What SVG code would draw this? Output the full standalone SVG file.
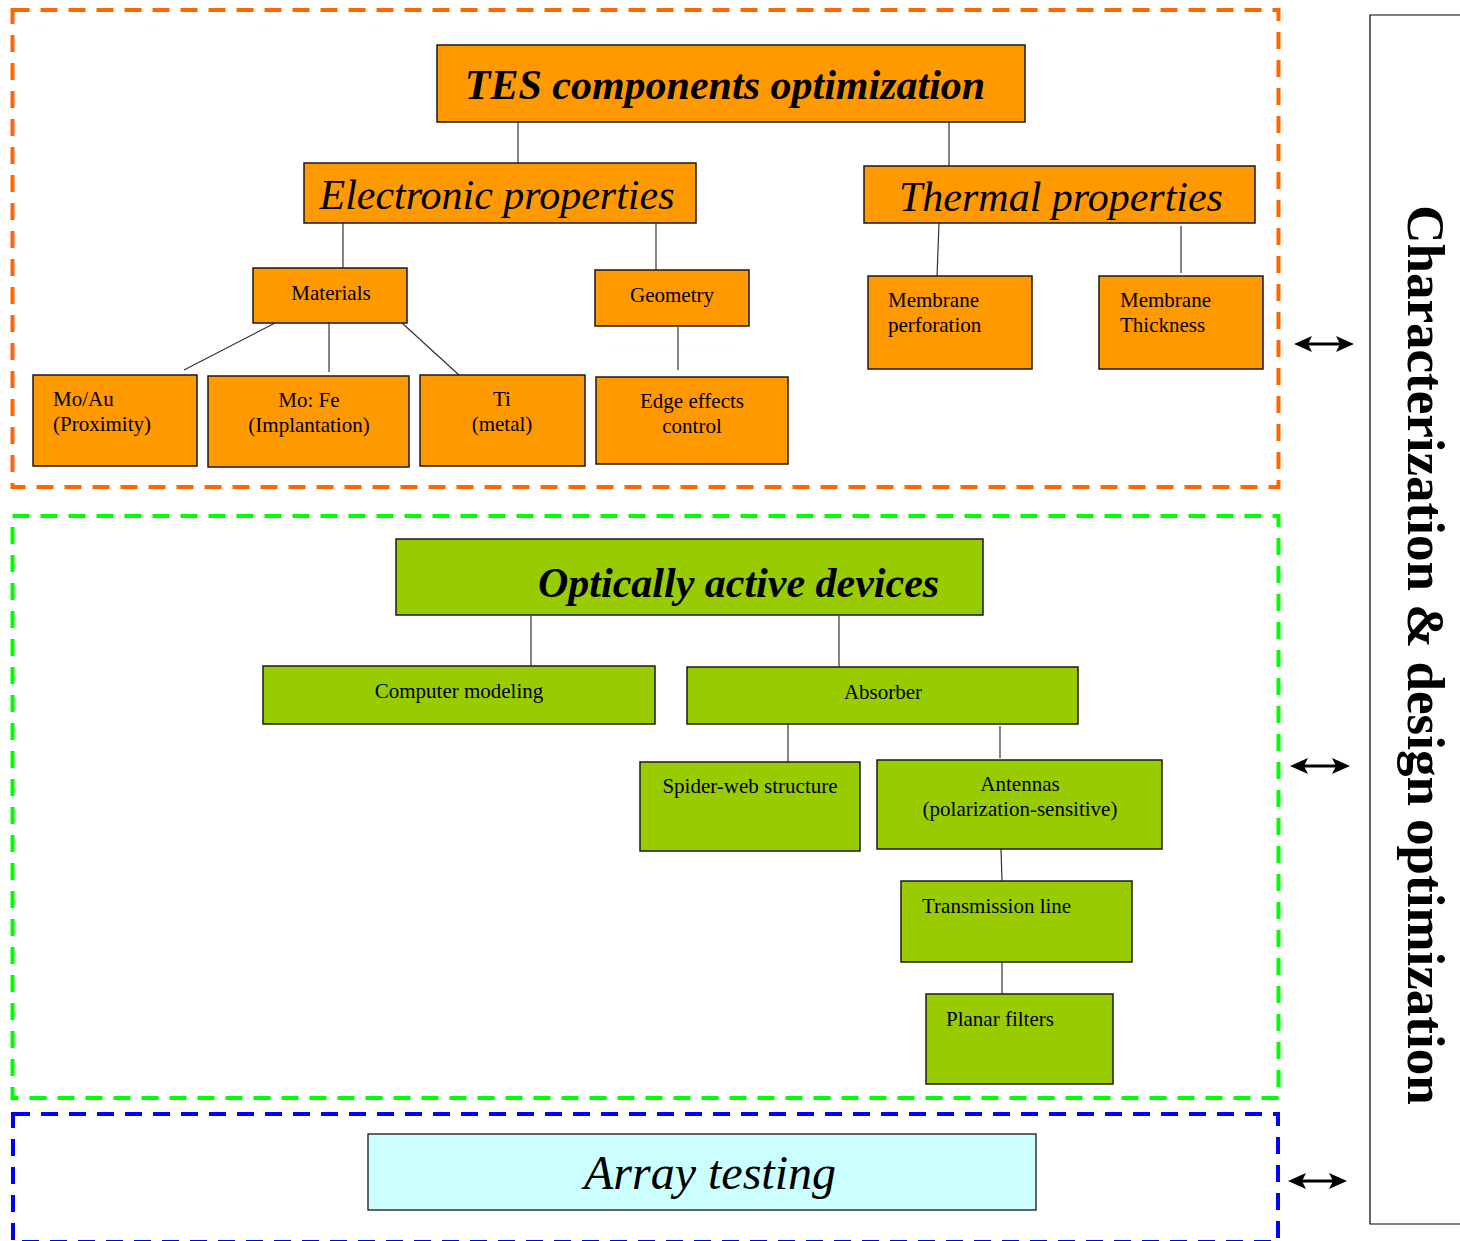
<svg xmlns="http://www.w3.org/2000/svg" width="1460" height="1241" viewBox="0 0 1460 1241">
<style>
.frame{fill:none;stroke-width:4;stroke-dasharray:17 11}
.o{fill:#ff9900;stroke:#1a1a1a;stroke-width:1.5}
.g{fill:#99cc00;stroke:#1a1a1a;stroke-width:1.5}
.c{fill:#ccffff;stroke:#333;stroke-width:1.5}
text{font-family:"Liberation Serif","Times New Roman",serif;fill:#000}
.s{font-size:21px}
.h{font-size:42px;font-style:italic}
.hb{font-size:42px;font-style:italic;font-weight:bold}
.m{text-anchor:middle}
.conn line{stroke:#333;stroke-width:1.2}
.arr line{stroke:#000;stroke-width:3}
.arr path{fill:#000}
</style>
<rect width="1460" height="1241" fill="#fff"/>
<g id="frames">
<rect class="frame" x="12.5" y="10" width="1266" height="477" stroke="#ff6600"/>
<rect class="frame" x="12.5" y="516" width="1266" height="582" stroke="#00ff00"/>
<rect class="frame" x="13" y="1114" width="1265" height="128" stroke="#0000ff"/>
</g>
<g id="connectors" class="conn">
<line x1="518" y1="122" x2="518" y2="163"/>
<line x1="949" y1="122" x2="949" y2="166"/>
<line x1="343" y1="223" x2="343" y2="268"/>
<line x1="656" y1="223" x2="656" y2="270"/>
<line x1="275" y1="323" x2="184" y2="370"/>
<line x1="329" y1="323" x2="329" y2="372"/>
<line x1="402" y1="323" x2="459" y2="375"/>
<line x1="678" y1="327" x2="678" y2="370"/>
<line x1="939" y1="223" x2="937" y2="277"/>
<line x1="1181" y1="226" x2="1181" y2="273"/>
<line x1="531" y1="616" x2="531" y2="666"/>
<line x1="839" y1="616" x2="839" y2="667"/>
<line x1="788" y1="724" x2="788" y2="762"/>
<line x1="1000" y1="726" x2="1000" y2="758"/>
<line x1="1001" y1="849" x2="1002" y2="881"/>
<line x1="1002" y1="962" x2="1002" y2="994"/>
</g>
<g id="n-tes"><rect class="o" x="437" y="45" width="588" height="77"/><text class="hb m" x="725" y="99">TES components optimization</text></g>
<g id="n-electronic"><rect class="o" x="304" y="163" width="392" height="60"/><text class="h m" x="497" y="209">Electronic properties</text></g>
<g id="n-thermal"><rect class="o" x="864" y="166" width="391" height="57"/><text class="h m" x="1061" y="211">Thermal properties</text></g>
<g id="n-materials"><rect class="o" x="253" y="268" width="154" height="55"/><text class="s m" x="331" y="300">Materials</text></g>
<g id="n-geometry"><rect class="o" x="595" y="270" width="154" height="56"/><text class="s m" x="672" y="302">Geometry</text></g>
<g id="n-moau"><rect class="o" x="33" y="375" width="164" height="91"/><text class="s" x="53" y="406">Mo/Au</text><text class="s" x="53" y="431">(Proximity)</text></g>
<g id="n-mofe"><rect class="o" x="208" y="376" width="201" height="91"/><text class="s m" x="309" y="407">Mo: Fe</text><text class="s m" x="309" y="432">(Implantation)</text></g>
<g id="n-ti"><rect class="o" x="420" y="375" width="165" height="91"/><text class="s m" x="502" y="406">Ti</text><text class="s m" x="502" y="431">(metal)</text></g>
<g id="n-edge"><rect class="o" x="596" y="377" width="192" height="87"/><text class="s m" x="692" y="408">Edge effects</text><text class="s m" x="692" y="433">control</text></g>
<g id="n-perforation"><rect class="o" x="868" y="276" width="164" height="93"/><text class="s" x="888" y="307">Membrane</text><text class="s" x="888" y="332">perforation</text></g>
<g id="n-thickness"><rect class="o" x="1099" y="276" width="164" height="93"/><text class="s" x="1120" y="307">Membrane</text><text class="s" x="1120" y="332">Thickness</text></g>
<g id="n-optical"><rect class="g" x="396" y="539" width="587" height="76"/><text class="hb" x="538" y="597">Optically active devices</text></g>
<g id="n-computer"><rect class="g" x="263" y="666" width="392" height="58"/><text class="s m" x="459" y="698">Computer modeling</text></g>
<g id="n-absorber"><rect class="g" x="687" y="667" width="391" height="57"/><text class="s m" x="883" y="699">Absorber</text></g>
<g id="n-spider"><rect class="g" x="640" y="762" width="220" height="89"/><text class="s m" x="750" y="793">Spider-web structure</text></g>
<g id="n-antennas"><rect class="g" x="877" y="760" width="285" height="89"/><text class="s m" x="1020" y="791">Antennas</text><text class="s m" x="1020" y="816">(polarization-sensitive)</text></g>
<g id="n-transmission"><rect class="g" x="901" y="881" width="231" height="81"/><text class="s" x="922" y="913">Transmission line</text></g>
<g id="n-planar"><rect class="g" x="926" y="994" width="187" height="90"/><text class="s" x="946" y="1026">Planar filters</text></g>
<g id="n-array"><rect class="c" x="368" y="1134" width="668" height="76"/><text x="710" y="1189" text-anchor="middle" font-size="48" font-style="italic">Array testing</text></g>
<g id="n-characterization"><path d="M1460,15 L1370,15 L1370,1224 L1460,1224" fill="none" stroke="#000" stroke-width="1.2"/><text transform="translate(1408,655) rotate(90)" text-anchor="middle" font-size="53" font-weight="bold">Characterization &amp; design optimization</text></g>
<g id="arrows" class="arr">
<line x1="1304" y1="344" x2="1344" y2="344"/>
<path d="M1294,344 L1312,336 L1308,344 L1312,352 Z"/>
<path d="M1354,344 L1336,336 L1340,344 L1336,352 Z"/>
<line x1="1300" y1="766" x2="1340" y2="766"/>
<path d="M1290,766 L1308,758 L1304,766 L1308,774 Z"/>
<path d="M1350,766 L1332,758 L1336,766 L1332,774 Z"/>
<line x1="1298" y1="1181" x2="1337" y2="1181"/>
<path d="M1288,1181 L1306,1173 L1302,1181 L1306,1189 Z"/>
<path d="M1347,1181 L1329,1173 L1333,1181 L1329,1189 Z"/>
</g>
</svg>
